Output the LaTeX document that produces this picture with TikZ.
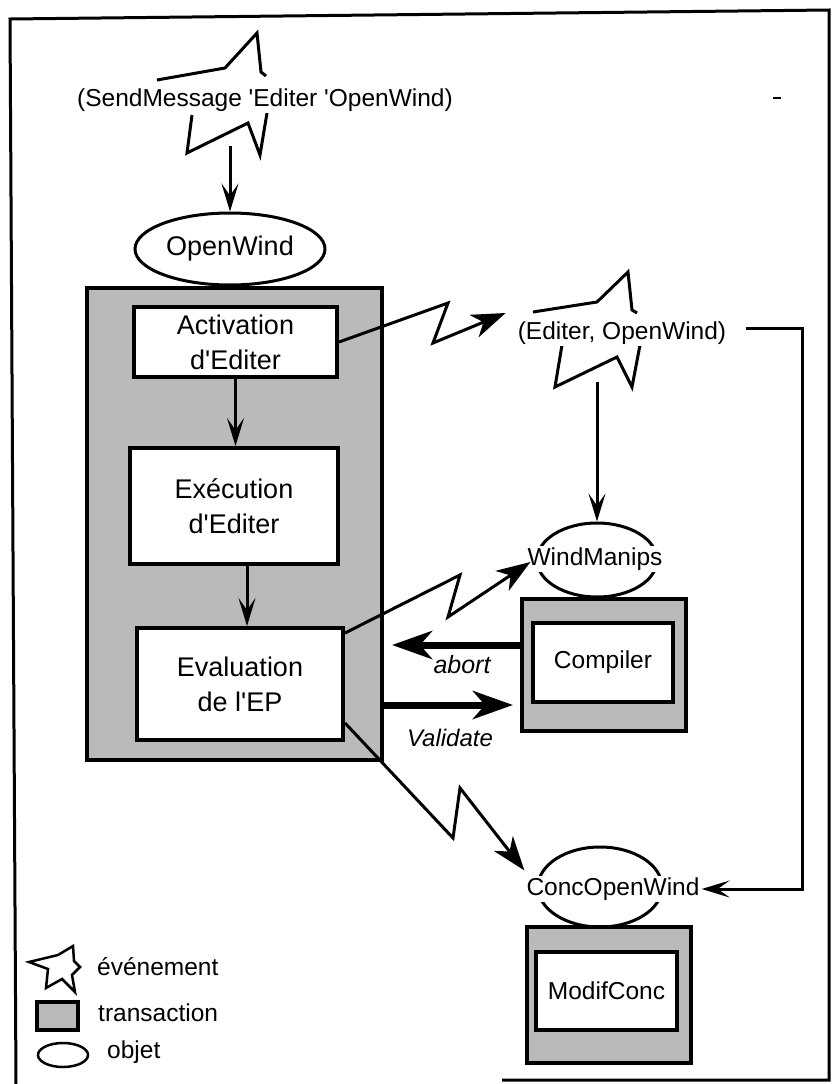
\documentclass[tikz,border=0pt]{standalone}
\usepackage{fontspec}
\setmainfont{Liberation Sans}[Ligatures=TeXOff]
\usetikzlibrary{arrows.meta,shapes.geometric}

\tikzset{
  trans/.style={draw, line width=4pt, fill=black!27, inner sep=0pt},
  stepbox/.style={draw, line width=4pt, fill=white, align=center, inner sep=0pt, font=\fontsize{27}{35}\selectfont},
  smallbox/.style={draw, line width=4pt, fill=white, inner sep=0pt},
  obj/.style={draw, ellipse, line width=3pt, inner sep=0pt},
  lbl/.style={fill=white, inner sep=2pt},
  legtext/.style={anchor=west, inner sep=0pt},
  thinarr/.style={line width=3pt, -{Stealth[length=28pt,width=17pt,inset=12pt]}},
  zap/.style={line width=3pt, line join=miter, -{Stealth[length=34pt,width=24pt,inset=10pt]}},
  thickarr/.style={line width=7pt, -{Stealth[length=40pt,width=28pt,inset=12pt]}}
}

\begin{document}
\begin{tikzpicture}[x=1pt,y=-1pt,font=\fontsize{24.5}{28}\selectfont]
\useasboundingbox (0,0) rectangle (833,1084);

\draw[line width=3pt] (16,1084) -- (10,19) -- (829,10) -- (829,1080) -- (502,1080);
\draw[line width=2pt] (773,98) -- (781,98);

\draw[line width=3pt] (157,80) -- (225,68) -- (257,33) -- (261,72) -- (266,76);
\draw[line width=3pt] (192,115) -- (187,153) -- (248,123) -- (260,155) -- (267,113);
\node[lbl] (sm) at (265,100) {(SendMessage 'Editer 'OpenWind)};

\node[obj, minimum width=190pt, minimum height=72pt, font=\fontsize{27}{31}\selectfont] (ow) at (230,249) {OpenWind};

\node[trans, minimum width=295pt, minimum height=472pt] (tx) at (234.5,524) {};
\node[stepbox, minimum width=203pt, minimum height=70pt] (act) at (235.5,342) {Activation\\d'Editer};
\node[stepbox, minimum width=208pt, minimum height=116pt] (exe) at (234,506) {Exécution\\d'Editer};
\node[stepbox, minimum width=206pt, minimum height=112pt] (eval) at (240,684) {Evaluation\\de l'EP};

\draw[line width=3pt] (533,312) -- (597,302) -- (628,272) -- (632,310) -- (637,313);
\draw[line width=3pt] (562,345) -- (555,387) -- (617,357) -- (632,387) -- (640,345);
\node[lbl] (ev) at (622,333) {(Editer, OpenWind)};

\node[obj, minimum width=120pt, minimum height=74pt] (wm) at (597,560) {};
\node[lbl] (wmt) at (595,559) {WindManips};
\node[trans, minimum width=164pt, minimum height=132pt] (cpt) at (604,665) {};
\node[smallbox, minimum width=140pt, minimum height=79pt] (cp) at (603,662.5) {Compiler};

\node[obj, minimum width=124pt, minimum height=80pt] (cow) at (600,887) {};
\node[lbl] (cowt) at (613,889) {ConcOpenWind};
\node[trans, minimum width=164pt, minimum height=136pt] (mct) at (609,995) {};
\node[smallbox, minimum width=141pt, minimum height=78pt] (mc) at (606.5,991) {ModifConc};

\draw[thinarr] (ow.north |- 0,146) -- (ow.north);
\draw[thinarr] (act.south) -- (act.south |- exe.north);
\draw[thinarr] ([xshift=13pt]exe.south) -- ([xshift=7pt]eval.north);
\draw[thinarr] (wm.north |- 0,382) -- (wm.north);
\draw[thinarr] ([shift={(18,-5)}]ev.east) -- (802,328) |- (cowt.east);

\draw[zap] (act.east) -- (448,303) -- (433,343) -- ([shift={(-10,-20)}]ev.west);
\draw[zap] ([yshift=51pt]eval.east) -- (460,575) -- (448,617) -- ([shift={(5,3)}]wmt.west);
\draw[zap] ([yshift=-39pt]eval.east) -- (453,838) -- (460,788) -- ([yshift=5pt]cowt.north west);

\draw[thickarr, shorten >=8pt] (cpt.west |- 0,645) -- (tx.east |- 0,645);
\draw[thickarr, shorten >=7pt] (tx.east |- 0,705) -- (cpt.west |- 0,705);
\node[font=\fontsize{25}{28}\selectfont\itshape] (ab) at (462,665) {abort};
\node[font=\fontsize{24}{28}\selectfont\itshape] (va) at (450,738) {Validate};

\draw[line width=2.5pt] (29,962) -- (58,955) -- (73,946) -- (74,961) -- (80,967) -- (72,975) -- (75,992) -- (62,979) -- (46,988) -- (48,969) -- cycle;
\node[legtext] (lev) at (97,967) {événement};
\node[trans, line width=3.5pt, minimum width=41pt, minimum height=28pt] (ltr) at (57.5,1016) {};
\node[legtext] (ltt) at (98,1013) {transaction};
\node[obj, line width=2.5pt, minimum width=50pt, minimum height=24pt] (lob) at (63,1055) {};
\node[legtext] (lot) at (107,1052) {objet};
\end{tikzpicture}
\end{document}
